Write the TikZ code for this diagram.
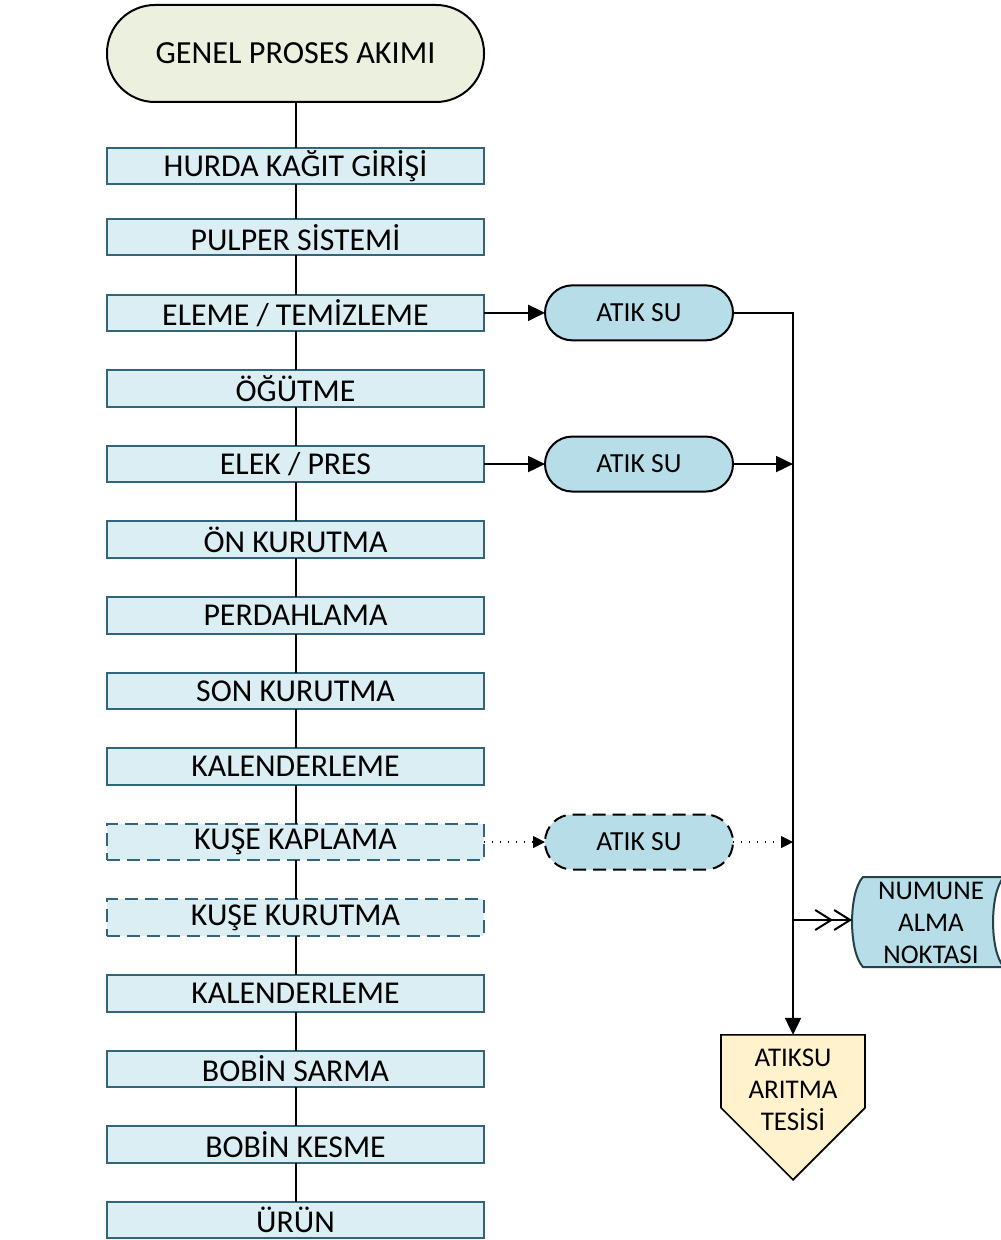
\documentclass[tikz,border=0pt]{standalone}
\usepackage{fontspec}
\setmainfont{Carlito}
\usepackage{xcolor}
\definecolor{boxblue}{HTML}{DAEEF3}
\definecolor{boxedge}{HTML}{31657A}
\definecolor{startgreen}{HTML}{EBF1DE}
\definecolor{wasteblue}{HTML}{B7DEE8}
\definecolor{plantcream}{HTML}{FFF2CC}
\definecolor{sampleedge}{HTML}{24414C}
\usepackage{tikz}
\usetikzlibrary{arrows.meta, positioning, calc}
\tikzset{
  pstep/.style ={rectangle, draw=boxedge, line width=1pt, fill=boxblue, text=black, align=center, outer sep=0pt,
                 inner sep=0pt, minimum width=188.5pt, minimum height=18.25pt, font=\fontsize{15.9}{17}\selectfont},
  pstepd/.style={pstep, dash pattern=on 6.5pt off 3.5pt},
  pterm/.style ={rectangle, rounded corners=24pt, draw=black, line width=1pt, fill=startgreen, text=black, outer sep=0pt,
                 inner sep=0pt, minimum width=188.5pt, minimum height=48.5pt, font=\fontsize{16.1}{17}\selectfont},
  wterm/.style ={rectangle, rounded corners=13.7pt, draw=black, line width=1pt, fill=wasteblue, text=black, outer sep=0pt,
                 inner sep=0pt, minimum width=94pt, minimum height=27.5pt, font=\fontsize{13.8}{15}\selectfont},
  wtermd/.style={wterm, dash pattern=on 6.5pt off 3.5pt},
  plant/.style ={draw=black, line width=0.8pt, fill=plantcream},
  sample/.style={draw=sampleedge, line width=1pt, fill=wasteblue},
  slbl/.style  ={align=center, text=black, inner sep=0pt, font=\fontsize{13.5}{15.8}\selectfont},
  kline/.style ={line width=1pt, color=black},
  karr/.style  ={-{Triangle[length=8.5pt, width=8pt]}, line width=1pt, color=black},
  karrd/.style ={-{Triangle[length=6pt, width=6pt]}, line width=0.6pt, dash pattern=on 0.6pt off 3.4pt, color=black},
  karrs/.style ={-{Straight Barb[length=8pt, width=10pt] Straight Barb[length=8pt, width=10pt]}, line width=1pt, color=black},
}
\begin{document}
\begin{tikzpicture}[node distance=19.55pt]
  \useasboundingbox (0,0) rectangle (500pt,-620pt);
  % ana proses hatti
  \node[pterm] (start) at (147.75pt,-26.75pt) {GENEL PROSES AKIMI};
  \node[pstep, below=23pt of start] (hurda) {HURDA KAĞIT GİRİŞİ};
  \node[pstep, below=17.25pt of hurda] (pulper) {PULPER SİSTEMİ};
  \node[pstep, below=of pulper] (eleme) {ELEME / TEMİZLEME};
  \node[pstep, below=of eleme] (ogutme) {ÖĞÜTME};
  \node[pstep, below=of ogutme] (elek) {ELEK / PRES};
  \node[pstep, below=of elek] (onkur) {ÖN KURUTMA};
  \node[pstep, below=of onkur] (perdah) {PERDAHLAMA};
  \node[pstep, below=of perdah] (sonkur) {SON KURUTMA};
  \node[pstep, below=of sonkur] (kal1) {KALENDERLEME};
  \node[pstepd, below=of kal1] (kaplama) {KUŞE KAPLAMA};
  \node[pstepd, below=of kaplama] (kusekur) {KUŞE KURUTMA};
  \node[pstep, below=of kusekur] (kal2) {KALENDERLEME};
  \node[pstep, below=of kal2] (sarma) {BOBİN SARMA};
  \node[pstep, below=of sarma] (kesme) {BOBİN KESME};
  \node[pstep, below=of kesme] (urun) {ÜRÜN};
  \draw[kline] (start) -- (hurda) (hurda) -- (pulper) (pulper) -- (eleme) (eleme) -- (ogutme)
    (ogutme) -- (elek) (elek) -- (onkur) (onkur) -- (perdah) (perdah) -- (sonkur) (sonkur) -- (kal1)
    (kal1) -- (kaplama) (kaplama) -- (kusekur) (kusekur) -- (kal2) (kal2) -- (sarma)
    (sarma) -- (kesme) (kesme) -- (urun);
  % atik su kollari
  \node[wterm, right=30.5pt of eleme] (atik1) {ATIK SU};
  \node[wterm, right=30.5pt of elek] (atik2) {ATIK SU};
  \node[wtermd, right=30.5pt of kaplama] (atik3) {ATIK SU};
  \coordinate[right=30pt of atik1.east] (bustop);
  \coordinate (bus2) at (atik2 -| bustop);
  \coordinate (bus3) at (atik3 -| bustop);
  \coordinate (aritmatop) at ($(bustop)+(0,-361pt)$);
  % aritma tesisi
  \draw[plant] (aritmatop) -- ++(36pt,0) -- ++(0,-36.5pt) -- ++(-36pt,-36pt) -- ++(-36pt,36pt) -- ++(0,36.5pt) -- cycle;
  \node[slbl] (aritma) at ($(aritmatop)+(0,-27.5pt)$) {ATIKSU\\ARITMA\\TESİSİ};
  % numune alma noktasi
  \draw[sample] (431.5pt,-438.5pt) -- (502pt,-438.5pt) .. controls (494.7pt,-446pt) and (494.7pt,-476pt) .. (502pt,-483.5pt)
    -- (431.5pt,-483.5pt) .. controls (424.2pt,-476pt) and (424.2pt,-446pt) .. cycle;
  \node[slbl] (numune) at (465.5pt,-461.5pt) {NUMUNE\\ALMA\\NOKTASI};
  \coordinate (numunein) at (426pt,-460pt);
  \coordinate (bus4) at (numunein -| bustop);
  \draw[karr] (eleme) -- (atik1);
  \draw[karr] (elek) -- (atik2);
  \draw[karrd] (kaplama) -- (atik3);
  \draw[karr] (atik1) -- (bustop) -- (aritmatop);
  \draw[karr] (atik2) -- (bus2);
  \draw[karrd] (atik3) -- (bus3);
  \draw[karrs] (bus4) -- (numunein);
\end{tikzpicture}
\end{document}
